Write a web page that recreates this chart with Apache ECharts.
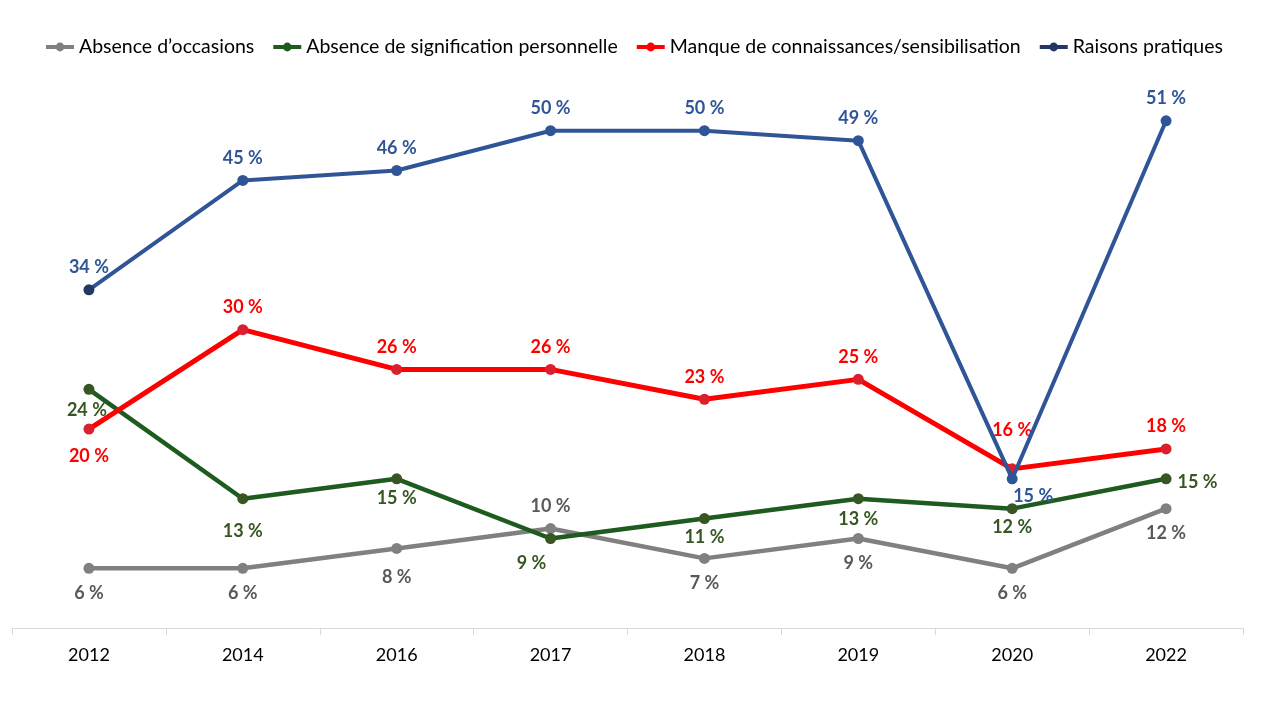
<!DOCTYPE html>
<html>
<head>
<meta charset="utf-8">
<script src="https://cdn.jsdelivr.net/npm/echarts@6/dist/echarts.min.js"></script>
<style>html,body{margin:0;padding:0;background:#fff}#c{width:1280px;height:720px}</style>
</head>
<body>
<div id="c"></div>
<script>
const categories = ['2012','2014','2016','2017','2018','2019','2020','2022'];
const seriesNames = ['Absence d\u2019occasions','Absence de signification personnelle','Manque de connaissances/sensibilisation','Raisons pratiques'];
const absenceOccasions = [6,6,8,10,7,9,6,12];
const absenceSignification = [24,13,15,9,11,13,12,15];
const manqueConnaissances = [20,30,26,26,23,25,16,18];
const raisonsPratiques = [34,45,46,50,50,49,15,51];

const FONT = 'Lato';
// label placement per point (style only)
const layouts = [
  {line:'#808080', marker:'#808080', text:'#595959', width:4.5, legend:'#808080',
   pos:['bottom','bottom','bottom','top','bottom','bottom','bottom','bottom'],
   off:[[0,0],[0,0],[0,4],[0,0],[0,0],[0,0],[0,0],[0,0]]},
  {line:'#1e5b1e', marker:'#375623', text:'#375623', width:4.5, legend:'#1e5b1e',
   pos:['bottom','bottom','bottom','bottom','bottom','bottom','bottom','right'],
   off:[[-2,-4],[0,8],[0,-5],[-19,0],[0,-6],[0,-4],[0,-6],[0,3]]},
  {line:'#ff0000', marker:'#d9202e', text:'#ff0000', width:5, legend:'#ff0000',
   pos:['bottom','top','top','top','top','top','top','top'],
   off:[[0,3],[0,0],[0,0],[0,0],[0,0],[0,0],[0,-16],[0,0]]},
  {line:'#2f5597', marker:'#2f5597', text:'#2f5597', width:4, first:'#1f3864', legend:'#1f3864',
   pos:['top','top','top','top','top','top','bottom','top'],
   off:[[0,0],[0,0],[0,0],[0,0],[0,0],[0,0],[21,-7],[0,0]]}
];
const values = [absenceOccasions, absenceSignification, manqueConnaissances, raisonsPratiques];

const series = values.map((vals, s) => {
  const L = layouts[s];
  return {
    name: seriesNames[s],
    type: 'line',
    symbol: 'circle',
    symbolSize: 11,
    lineStyle: {color: L.line, width: L.width},
    itemStyle: {color: L.marker},
    data: vals.map((v, i) => ({
      value: v,
      itemStyle: (i === 0 && L.first) ? {color: L.first} : undefined,
      label: {position: L.pos[i], offset: L.off[i], distance: L.pos[i]==='bottom' ? 10 : (L.pos[i]==='top' ? 8 : 6)}
    })),
    label: {
      show: true, formatter: p => p.value + ' %',
      color: L.text, fontFamily: FONT, fontWeight: 'bold', fontSize: 18
    },
    z: 2 + s
  };
});

const chart = echarts.init(document.getElementById('c'), null, {renderer: 'canvas'});
chart.setOption({
  animation: false,
  legend: {
    top: 32, left: 39, itemWidth: 28, itemHeight: 11, itemGap: 17,
    textStyle: {fontFamily: FONT, fontSize: 19.5, color: '#000'},
    data: seriesNames.map((n, s) => ({
      name: n,
      itemStyle: {color: layouts[s].legend},
      lineStyle: {color: layouts[s].legend, width: 4}
    }))
  },
  grid: {left: 12, right: 37, top: 81, bottom: 92, containLabel: false},
  xAxis: {
    type: 'category', data: categories, boundaryGap: true,
    axisLine: {lineStyle: {color: '#d9d9d9', width: 1}},
    axisTick: {show: true, length: 7, lineStyle: {color: '#d9d9d9'}},
    axisLabel: {color: '#000', fontFamily: FONT, fontSize: 18, margin: 18}
  },
  yAxis: {type: 'value', min: 0, max: 55, show: false, splitLine: {show: false}},
  series: series
});
</script>
</body>
</html>
